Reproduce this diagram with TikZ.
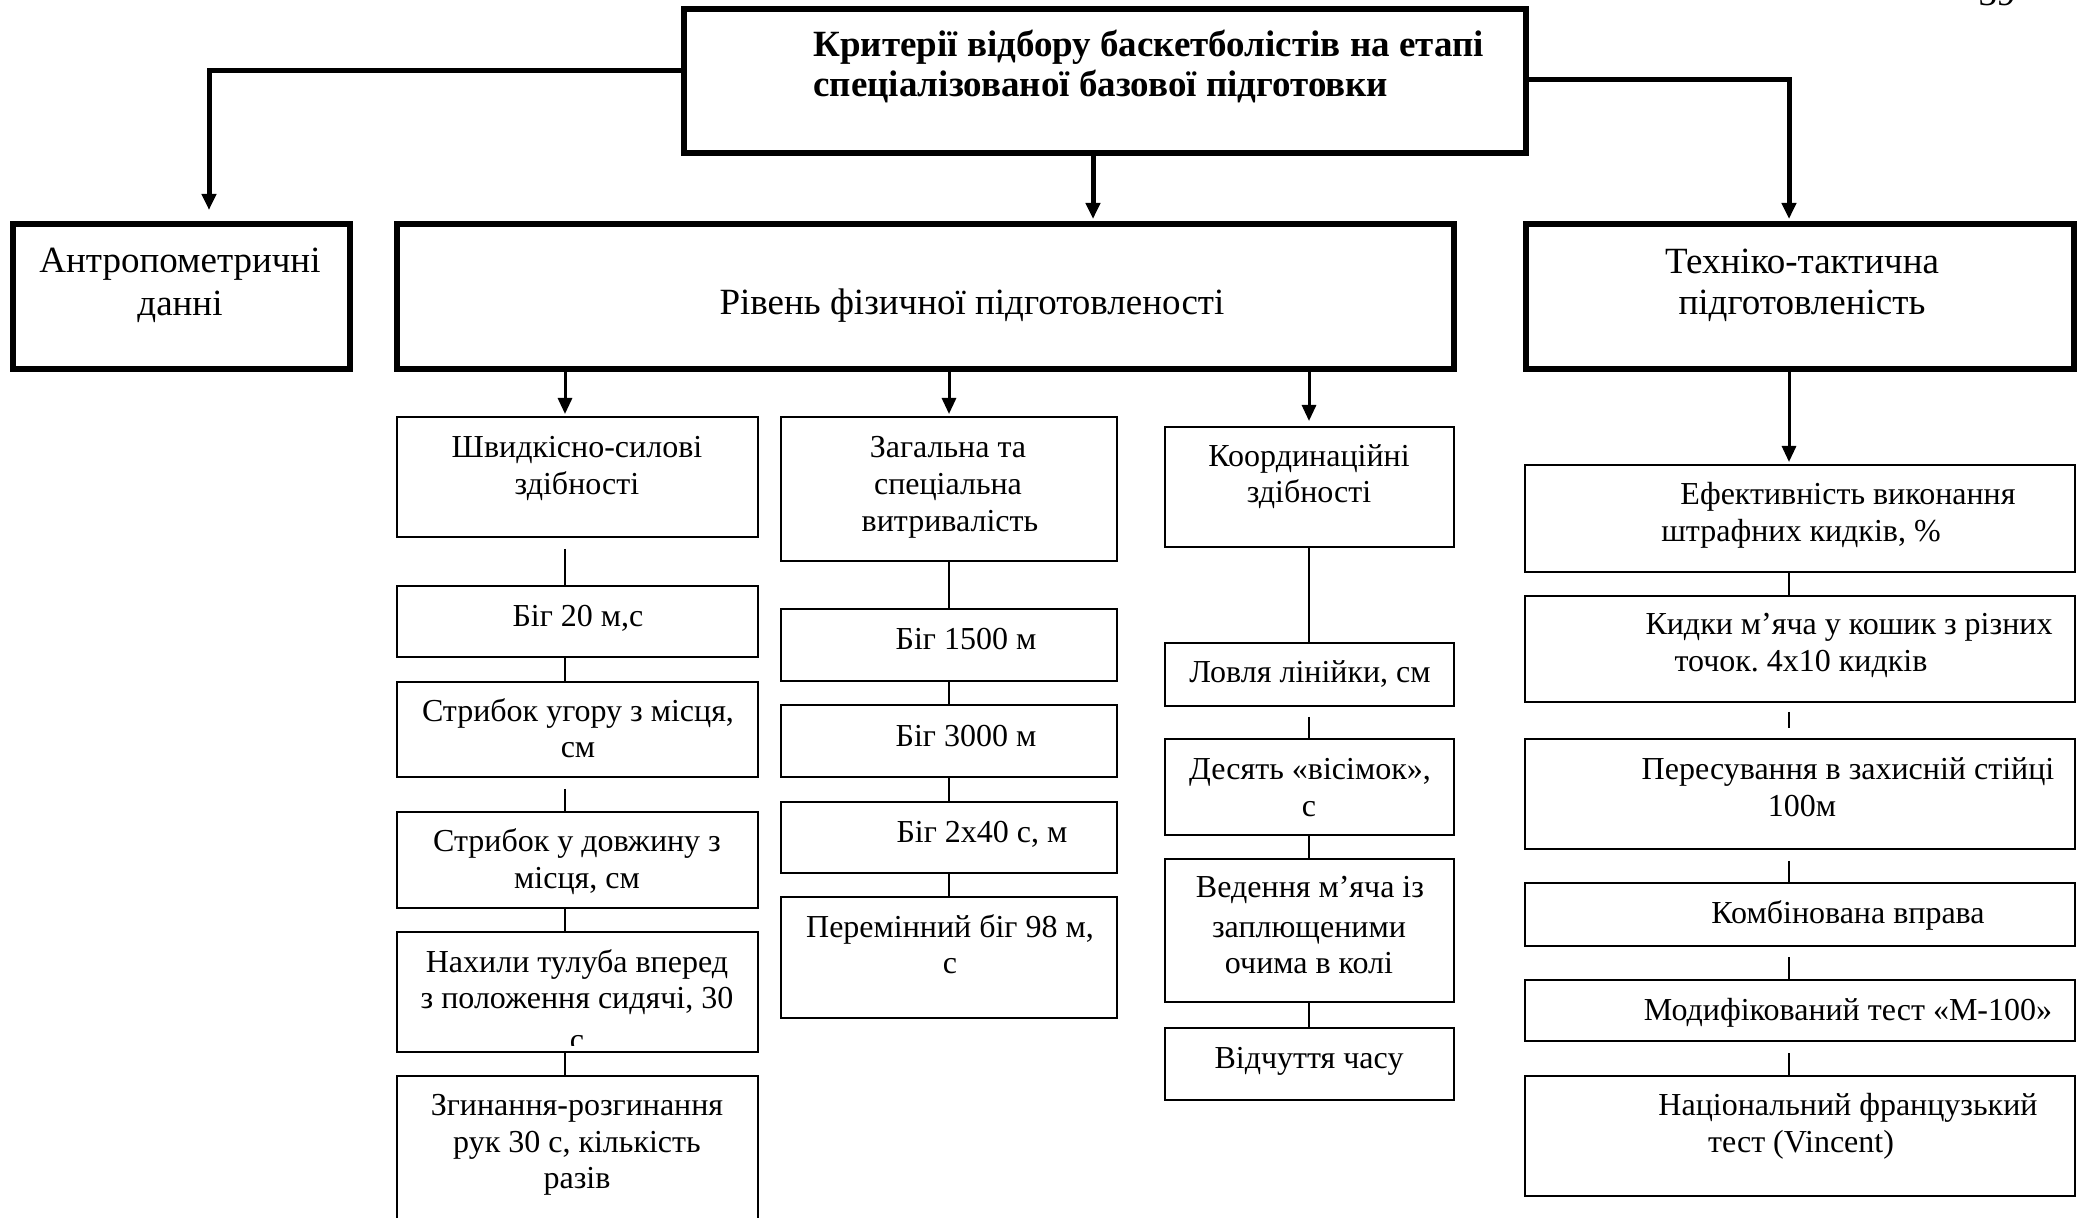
\documentclass[tikz,border=0pt]{standalone}
\usepackage{fontspec}
\setmainfont{Liberation Serif}
\usetikzlibrary{arrows.meta,calc,fit}
\frenchspacing

\newcommand\bigtext{\fontsize{18.5pt}{21.5pt}\selectfont}
\newcommand\smalltext{\fontsize{16pt}{18.5pt}\selectfont}
\newcommand\headtext{\fontsize{18.5pt}{21.5pt}\selectfont\bfseries}

\begin{document}
\begin{tikzpicture}[x=0.5pt,y=-0.5pt,
  heavybox/.style={draw, line width=3pt, inner sep=0pt},
  lightbox/.style={draw, line width=1pt, inner sep=0pt},
  bigline/.style={font=\bigtext, inner sep=0pt, anchor=base},
  smallline/.style={font=\smalltext, inner sep=0pt, anchor=base},
  headline/.style={font=\headtext, inner sep=0pt, anchor=base west},
  mainarrow/.style={line width=2.5pt, -{Triangle[length=8pt,width=7pt]}},
  subarrow/.style={line width=1.5pt, -{Triangle[length=8pt,width=7pt]}},
  link/.style={line width=1pt}]

% page area
\clip (0,0) rectangle (2078,1218);
\fill[white] (0,0) rectangle (2078,1218);

% page number, mostly above the top edge
\node[bigline] (pagenum) at (1997,6) {39};

% ---- top level ----
\node[heavybox, fit={(684,9) (1526,153)}] (top) {};
\node[headline] (top-l1) at (813,57) {Критерії відбору баскетболістів на етапі};
\node[headline] (top-l2) at (813,97) {спеціалізованої базової підготовки};

\node[heavybox, fit={(13,224) (350,369)}] (anth) {};
\node[bigline] (anth-l1) at (180,273) {Антропометричні};
\node[bigline] (anth-l2) at (180,316) {данні};

\node[heavybox, fit={(397,224) (1454,369)}] (phys) {};
\node[bigline] (phys-l1) at (972,315) {Рівень фізичної підготовленості};

\node[heavybox, fit={(1526,224) (2074,369)}] (tech) {};
\node[bigline] (tech-l1) at (1802,274) {Техніко-тактична};
\node[bigline] (tech-l2) at (1802,315) {підготовленість};

% branch columns
\coordinate (kl) at (209,71);
\coordinate (kc) at (1093,0);
\coordinate (kr) at (1789,80);
\coordinate (k1) at (565,0);
\coordinate (k2) at (949,0);
\coordinate (k3) at (1309,0);
\coordinate (k4) at (1789,0);

\draw[mainarrow] (top.west |- kl) -| ($(anth.north -| kl)+(0,-11)$);
\draw[mainarrow] (top.south -| kc) -- ($(phys.north -| kc)+(0,-2)$);
\draw[mainarrow] (top.east |- kr) -| ($(tech.north -| kr)+(0,-2)$);

% ---- speed-strength column ----
\node[lightbox, fit={(397,417) (758,537)}] (s0) {};
\node[smallline] (s0-l1) at (577,458) {Швидкісно-силові};
\node[smallline] (s0-l2) at (577,495) {здібності};
\node[lightbox, fit={(397,586) (758,657)}] (s1) {};
\node[smallline] (s1-l1) at (578,627) {Біг 20 м,с};
\node[lightbox, fit={(397,682) (758,777)}] (s2) {};
\node[smallline] (s2-l1) at (578,722) {Стрибок угору з місця,};
\node[smallline] (s2-l2) at (578,758) {см};
\node[lightbox, fit={(397,812) (758,908)}] (s3) {};
\node[smallline] (s3-l1) at (577,852) {Стрибок у довжину з};
\node[smallline] (s3-l2) at (577,888) {місця, см};
\node[lightbox, fit={(397,932) (758,1052)}] (s4) {};
\node[smallline] (s4-l1) at (577,972) {Нахили тулуба вперед};
\node[smallline] (s4-l2) at (577,1008) {з положення сидячі, 30};
\begin{scope}
  \clip (397,1020) rectangle (758,1045);
  \node[smallline] (s4-l3) at (577,1050) {с};
\end{scope}
\node[lightbox, fit={(397,1076) (758,1260)}] (s5) {};
\node[smallline] (s5-l1) at (577,1115) {Згинання-розгинання};
\node[smallline] (s5-l2) at (577,1152) {рук 30 с, кількість};
\node[smallline] (s5-l3) at (577,1188) {разів};

\draw[subarrow] (phys.south -| k1) -- ($(s0.north -| k1)+(0,-2)$);
\draw[link] ($(s0.south -| k1)+(0,11)$) -- (s1.north -| k1);
\draw[link] (s1.south -| k1) -- (s2.north -| k1);
\draw[link] ($(s2.south -| k1)+(0,11)$) -- (s3.north -| k1);
\draw[link] (s3.south -| k1) -- (s4.north -| k1);
\draw[link] (s4.south -| k1) -- (s5.north -| k1);

% ---- endurance column ----
\node[lightbox, fit={(781,417) (1117,561)}] (e0) {};
\node[smallline] (e0-l1) at (948,458) {Загальна та};
\node[smallline] (e0-l2) at (948,495) {спеціальна};
\node[smallline] (e0-l3) at (950,532) {витривалість};
\node[lightbox, fit={(781,609) (1117,681)}] (e1) {};
\node[smallline] (e1-l1) at (966,650) {Біг 1500 м};
\node[lightbox, fit={(781,705) (1117,777)}] (e2) {};
\node[smallline] (e2-l1) at (966,747) {Біг 3000 м};
\node[lightbox, fit={(781,802) (1117,873)}] (e3) {};
\node[smallline] (e3-l1) at (982,842) {Біг 2х40 с, м};
\node[lightbox, fit={(781,897) (1117,1018)}] (e4) {};
\node[smallline] (e4-l1) at (950,937) {Перемінний біг 98 м,};
\node[smallline] (e4-l2) at (950,973) {с};

\draw[subarrow] (phys.south -| k2) -- ($(e0.north -| k2)+(0,-2)$);
\draw[link] (e0.south -| k2) -- (e1.north -| k2);
\draw[link] (e1.south -| k2) -- (e2.north -| k2);
\draw[link] (e2.south -| k2) -- (e3.north -| k2);
\draw[link] (e3.south -| k2) -- (e4.north -| k2);

% ---- coordination column ----
\node[lightbox, fit={(1165,427) (1454,547)}] (c0) {};
\node[smallline] (c0-l1) at (1309,467) {Координаційні};
\node[smallline] (c0-l2) at (1309,503) {здібності};
\node[lightbox, fit={(1165,643) (1454,706)}] (c1) {};
\node[smallline] (c1-l1) at (1310,683) {Ловля лінійки, см};
\node[lightbox, fit={(1165,739) (1454,835)}] (c2) {};
\node[smallline] (c2-l1) at (1310,780) {Десять «вісімок»,};
\node[smallline] (c2-l2) at (1309,817) {с};
\node[lightbox, fit={(1165,859) (1454,1002)}] (c3) {};
\node[smallline] (c3-l1) at (1310,898) {Ведення м’яча із};
\node[smallline] (c3-l2) at (1309,937) {заплющеними};
\node[smallline] (c3-l3) at (1309,973) {очима в колі};
\node[lightbox, fit={(1165,1028) (1454,1100)}] (c4) {};
\node[smallline] (c4-l1) at (1309,1068) {Відчуття часу};

\draw[subarrow] (phys.south -| k3) -- ($(c0.north -| k3)+(0,-5)$);
\draw[link] (c0.south -| k3) -- (c1.north -| k3);
\draw[link] ($(c1.south -| k3)+(0,10)$) -- (c2.north -| k3);
\draw[link] (c2.south -| k3) -- (c3.north -| k3);
\draw[link] (c3.south -| k3) -- (c4.north -| k3);

% ---- technical-tactical column ----
\node[lightbox, fit={(1525,465) (2075,572)}] (t0) {};
\node[smallline] (t0-l1) at (1848,505) {Ефективність виконання};
\node[smallline] (t0-l2) at (1801,542) {штрафних кидків, \%};
\node[lightbox, fit={(1525,596) (2075,702)}] (t1) {};
\node[smallline] (t1-l1) at (1849,635) {Кидки м’яча у кошик з різних};
\node[smallline] (t1-l2) at (1801,672) {точок. 4х10 кидків};
\node[lightbox, fit={(1525,739) (2075,849)}] (t2) {};
\node[smallline] (t2-l1) at (1848,780) {Пересування в захисній стійці};
\node[smallline] (t2-l2) at (1802,817) {100м};
\node[lightbox, fit={(1525,883) (2075,946)}] (t3) {};
\node[smallline] (t3-l1) at (1848,923) {Комбінована вправа};
\node[lightbox, fit={(1525,980) (2075,1041)}] (t4) {};
\node[smallline] (t4-l1) at (1848,1020) {Модифікований тест «М-100»};
\node[lightbox, fit={(1525,1076) (2075,1196)}] (t5) {};
\node[smallline] (t5-l1) at (1848,1115) {Національний французький};
\node[smallline] (t5-l2) at (1801,1152) {тест (Vincent)};

\draw[subarrow] (tech.south -| k4) -- ($(t0.north -| k4)+(0,-2)$);
\draw[link] (t0.south -| k4) -- (t1.north -| k4);
\draw[link] ($(t1.south -| k4)+(0,9)$) -- ($(t2.north -| k4)+(0,-10)$);
\draw[link] ($(t2.south -| k4)+(0,11)$) -- (t3.north -| k4);
\draw[link] ($(t3.south -| k4)+(0,10)$) -- (t4.north -| k4);
\draw[link] ($(t4.south -| k4)+(0,11)$) -- (t5.north -| k4);
\end{tikzpicture}
\end{document}
